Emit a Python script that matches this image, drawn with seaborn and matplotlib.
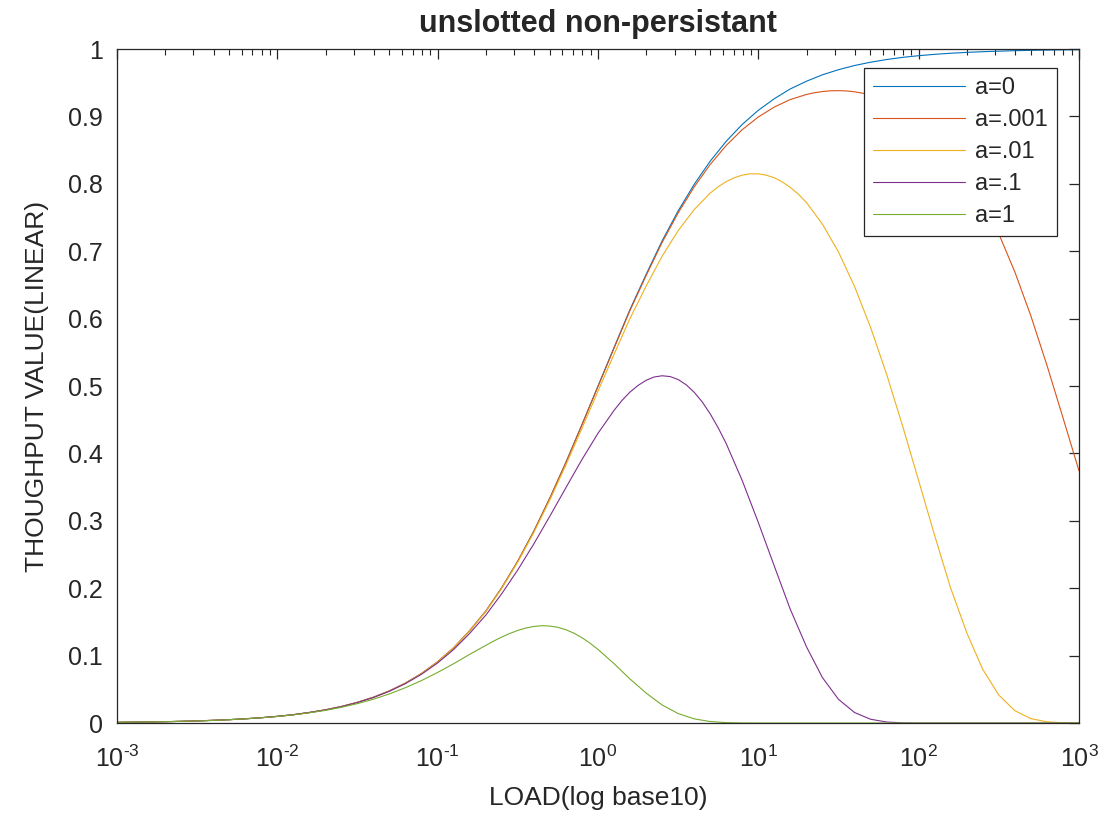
import matplotlib
matplotlib.use("Agg")
import matplotlib.pyplot as plt
import pandas as pd
import seaborn as sns
from matplotlib.ticker import FixedLocator, LogLocator, NullFormatter

# load (x) sample points
LOAD = [0.001, 0.00126, 0.00158, 0.002, 0.00251, 0.00316, 0.00398, 0.00501, 0.00631, 0.00794,
        0.01, 0.0126, 0.0158, 0.02, 0.0251, 0.0316, 0.0398, 0.0501, 0.0631, 0.0794,
        0.1, 0.126, 0.158, 0.2, 0.251, 0.316, 0.398, 0.501, 0.631, 0.794,
        1, 1.26, 1.58, 2, 2.51, 3.16, 3.98, 5.01, 6.31, 7.94,
        10, 12.6, 15.8, 20, 25.1, 31.6, 39.8, 50.1, 63.1, 79.4,
        100, 126, 158, 200, 251, 316, 398, 501, 631, 794, 1000]

S_A0 = [0.001, 0.0013, 0.0016, 0.002, 0.0025, 0.0032, 0.004, 0.005, 0.0063, 0.0079,
        0.0099, 0.0124, 0.0156, 0.0196, 0.0245, 0.0307, 0.0383, 0.0477, 0.0594, 0.0736,
        0.0909, 0.1118, 0.1368, 0.1663, 0.2008, 0.2402, 0.2847, 0.3339, 0.3869, 0.4427,
        0.5, 0.5573, 0.6131, 0.6661, 0.7153, 0.7598, 0.7992, 0.8337, 0.8632, 0.8882,
        0.9091, 0.9264, 0.9407, 0.9523, 0.9617, 0.9693, 0.9755, 0.9804, 0.9844, 0.9876,
        0.9901, 0.9921, 0.9937, 0.995, 0.996, 0.9968, 0.9975, 0.998, 0.9984, 0.9987, 0.999]

S_A0001 = [0.001, 0.0013, 0.0016, 0.002, 0.0025, 0.0032, 0.004, 0.005, 0.0063, 0.0079,
           0.0099, 0.0124, 0.0156, 0.0196, 0.0245, 0.0307, 0.0383, 0.0477, 0.0594, 0.0736,
           0.0909, 0.1118, 0.1368, 0.1663, 0.2008, 0.2402, 0.2847, 0.3339, 0.3867, 0.4425,
           0.4993, 0.5563, 0.6118, 0.6643, 0.713, 0.7568, 0.7954, 0.8288, 0.857, 0.8804,
           0.8992, 0.914, 0.925, 0.9326, 0.9369, 0.9382, 0.9365, 0.9316, 0.9233, 0.9112,
           0.8949, 0.8738, 0.8472, 0.8142, 0.7739, 0.7258, 0.6691, 0.6039, 0.5306, 0.453, 0.374]

S_A001 = [0.001, 0.0013, 0.0016, 0.002, 0.0025, 0.0032, 0.004, 0.005, 0.0063, 0.0079,
          0.0099, 0.0124, 0.0156, 0.0196, 0.0245, 0.0306, 0.0383, 0.0477, 0.0593, 0.0735,
          0.0907, 0.1116, 0.1364, 0.1657, 0.1999, 0.2389, 0.2828, 0.3311, 0.383, 0.4372,
          0.4925, 0.5473, 0.5998, 0.6486, 0.6925, 0.7305, 0.7618, 0.7862, 0.8033, 0.8129,
          0.8148, 0.8089, 0.7947, 0.772, 0.7401, 0.6989, 0.6477, 0.587, 0.5174, 0.4406,
          0.3594, 0.2777, 0.2007, 0.1333, 0.0795, 0.0415, 0.0183, 0.0065, 0.0018, 0.0004, 0.0]

S_A01 = [0.001, 0.0013, 0.0016, 0.002, 0.0025, 0.0032, 0.004, 0.005, 0.0063, 0.0079,
         0.0099, 0.0124, 0.0156, 0.0195, 0.0244, 0.0305, 0.038, 0.0473, 0.0586, 0.0725,
         0.0892, 0.1092, 0.1328, 0.1603, 0.1919, 0.2272, 0.2659, 0.307, 0.3493, 0.3909,
         0.4299, 0.464, 0.4909, 0.5086, 0.5152, 0.5096, 0.4907, 0.4587, 0.4143, 0.3595,
         0.2974, 0.2323, 0.169, 0.1127, 0.0674, 0.0352, 0.0156, 0.0056, 0.0015, 0.0003,
         0.0, 0.0, 0.0, 0.0, 0.0, 0.0, 0.0, 0.0, 0.0, 0.0, 0.0]

S_A1 = [0.001, 0.0013, 0.0016, 0.002, 0.0025, 0.0031, 0.0039, 0.0049, 0.0062, 0.0078,
        0.0097, 0.0121, 0.0151, 0.0188, 0.0233, 0.0288, 0.0354, 0.0433, 0.0525, 0.0631,
        0.0751, 0.0881, 0.1018, 0.1153, 0.1276, 0.1374, 0.1433, 0.1439, 0.1384, 0.1266,
        0.1092, 0.088, 0.0655, 0.0443, 0.0268, 0.0141, 0.0062, 0.0022, 0.0006, 0.0001,
        0.0, 0.0, 0.0, 0.0, 0.0, 0.0, 0.0, 0.0, 0.0, 0.0,
        0.0, 0.0, 0.0, 0.0, 0.0, 0.0, 0.0, 0.0, 0.0, 0.0, 0.0]

# extra readings around the humps, where the curves bend most
PEAK_LOAD_A0001 = [22.4, 28.2, 35.5, 44.7]
PEAK_S_A0001 = [0.9351, 0.938, 0.9378, 0.9344]
PEAK_LOAD_A001 = [5.62, 7.08, 8.91, 11.2, 14.1, 17.8]
PEAK_S_A001 = [0.7957, 0.809, 0.8148, 0.8128, 0.8028, 0.7845]
PEAK_LOAD_A01 = [1.41, 1.78, 2.24, 2.82, 3.55, 4.47, 5.62]
PEAK_S_A01 = [0.4785, 0.501, 0.5134, 0.514, 0.5018, 0.4763, 0.4379]
PEAK_LOAD_A1 = [0.224, 0.282, 0.355, 0.447, 0.562, 0.708, 0.891]
PEAK_S_A1 = [0.1217, 0.1329, 0.1409, 0.1444, 0.142, 0.1333, 0.1185]

LABELS = ["a=0", "a=.001", "a=.01", "a=.1", "a=1"]
SERIES = [S_A0, S_A0001, S_A001, S_A01, S_A1]
PEAK_LOADS = [[], PEAK_LOAD_A0001, PEAK_LOAD_A001, PEAK_LOAD_A01, PEAK_LOAD_A1]
PEAK_SERIES = [[], PEAK_S_A0001, PEAK_S_A001, PEAK_S_A01, PEAK_S_A1]
COLORS = ["#0072BD", "#D95319", "#EDB120", "#7E2F8E", "#77AC30"]

XTICKS = [1e-3, 1e-2, 1e-1, 1, 10, 100, 1000]
XTICK_LABELS = [r"$10^{\text{-}3}$", r"$10^{\text{-}2}$", r"$10^{\text{-}1}$", r"$10^{0}$",
                r"$10^{1}$", r"$10^{2}$", r"$10^{3}$"]
YTICKS = [0, 0.1, 0.2, 0.3, 0.4, 0.5, 0.6, 0.7, 0.8, 0.9, 1]
YTICK_LABELS = ["0", "0.1", "0.2", "0.3", "0.4", "0.5", "0.6", "0.7", "0.8", "0.9", "1"]

sns.set_style("white")
plt.rcParams["font.family"] = ["Liberation Sans", "DejaVu Sans"]
plt.rcParams["mathtext.fontset"] = "custom"
plt.rcParams["mathtext.rm"] = "Liberation Sans"
plt.rcParams["mathtext.it"] = "Liberation Sans:italic"

fig = plt.figure(figsize=(11.1, 8.25), dpi=100)
ax = fig.add_axes([0.1054, 0.1236, 0.8667, 0.817])

for lab, vals, px, py, col in zip(LABELS, SERIES, PEAK_LOADS, PEAK_SERIES, COLORS):
    df = pd.DataFrame({"load": LOAD + px, "s": vals + py}).sort_values("load")
    sns.lineplot(data=df, x="load", y="s", label=lab, color=col, linewidth=0.8,
                 estimator=None, sort=False, legend=False, ax=ax)

ax.set_xscale("log")
ax.set_xlim(1e-3, 1e3)
ax.set_ylim(0, 1)
ax.xaxis.set_major_locator(FixedLocator(XTICKS))
ax.set_xticklabels(XTICK_LABELS)
ax.xaxis.set_minor_locator(LogLocator(base=10, subs=range(2, 10), numticks=20))
ax.xaxis.set_minor_formatter(NullFormatter())
ax.set_yticks(YTICKS)
ax.set_yticklabels(YTICK_LABELS)

axis_col = "#262626"
for sp in ax.spines.values():
    sp.set_visible(True)
    sp.set_color(axis_col)
    sp.set_linewidth(0.9)
ax.tick_params(which="major", direction="in", length=7, width=0.9, top=True, right=True,
               labelsize=18, colors=axis_col)
ax.tick_params(axis="x", which="major", pad=16)
ax.tick_params(axis="y", which="major", pad=10)
ax.tick_params(which="minor", direction="in", length=4, width=0.8, top=True, right=True,
               colors=axis_col)
ax.grid(False)

ax.set_title("unslotted non-persistant", fontsize=22, fontweight="bold", pad=12)
ax.set_xlabel("LOAD(log base10)", fontsize=19, color=axis_col, labelpad=10)
ax.set_ylabel("THOUGHPUT VALUE(LINEAR)", fontsize=19, color=axis_col, labelpad=14)

leg = ax.legend(loc="upper right", bbox_to_anchor=(0.977, 0.972), borderaxespad=0,
                fontsize=17, handlelength=3.9, handletextpad=0.4, labelspacing=0.42,
                borderpad=0.4, fancybox=False, framealpha=1)
leg.get_frame().set_edgecolor(axis_col)
leg.get_frame().set_linewidth(0.9)
for t in leg.get_texts():
    t.set_color(axis_col)

fig.savefig("out.png", dpi=100)
